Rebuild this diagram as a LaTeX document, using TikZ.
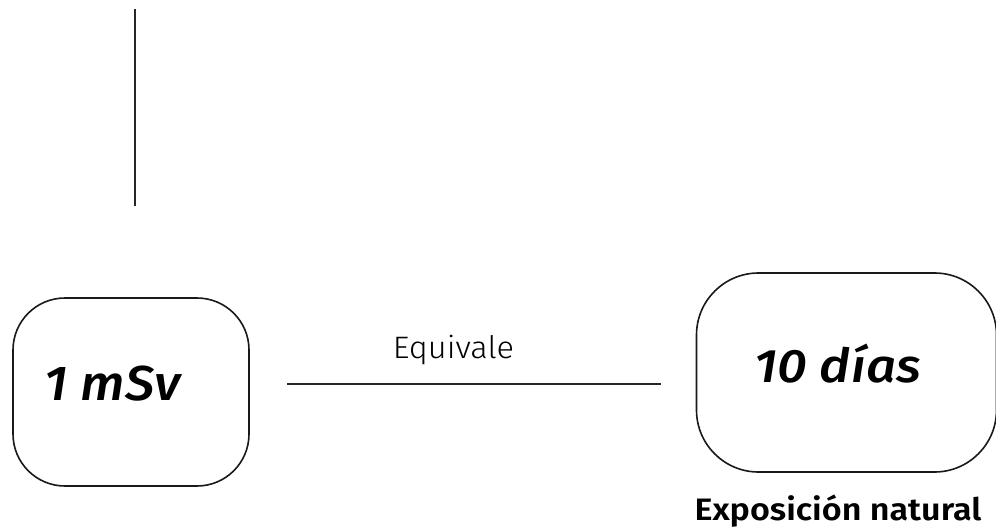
\documentclass[tikz,border=0pt]{standalone}
\usepackage{fontspec}
\setmainfont{Fira Sans}
\newfontfamily\firalight{Fira Sans Light}
\newfontfamily\firamedit{Fira Sans Medium Italic}
\newfontfamily\firasemi{Fira Sans SemiBold}
\begin{document}
\begin{tikzpicture}[x=1pt,y=-1pt,
  box/.style={draw=black!90, line width=1.6pt, rounded corners=52pt, inner sep=0pt},
  lbl/.style={inner sep=0pt, anchor=base}]
\useasboundingbox (0,0) rectangle (996,530);
% vertical line
\coordinate (vt) at (135,9);
\coordinate (vb) at (135,206);
\draw[line width=2.6pt, black!85] (vt) -- (vb);
% boxes
\node[box, minimum width=236pt, minimum height=188pt] (b1) at (131,392) {};
\node[box, minimum width=300pt, minimum height=199pt, rounded corners=62pt] (b2) at (846.5,372.5) {};
\node[lbl, xscale=1.08, font=\firamedit\fontsize{49}{52}\selectfont] (t1) at (112.5,400) {1 mSv};
\node[lbl, xscale=1.12, font=\firamedit\fontsize{47}{50}\selectfont] (t2) at (837.5,382) {10 días};
% connector
\coordinate (ha) at (287,384);
\coordinate (hb) at (661,384);
\draw[line width=1.8pt, black!85] (ha) -- (hb);
\node[lbl, xscale=1.05, font=\firalight\fontsize{31}{34}\selectfont] (eq) at (453.5,358) {Equivale};
\node[lbl, xscale=1.1, font=\firasemi\fontsize{31}{34}\selectfont] (ex) at (838,520) {Exposición natural};
\end{tikzpicture}
\end{document}
